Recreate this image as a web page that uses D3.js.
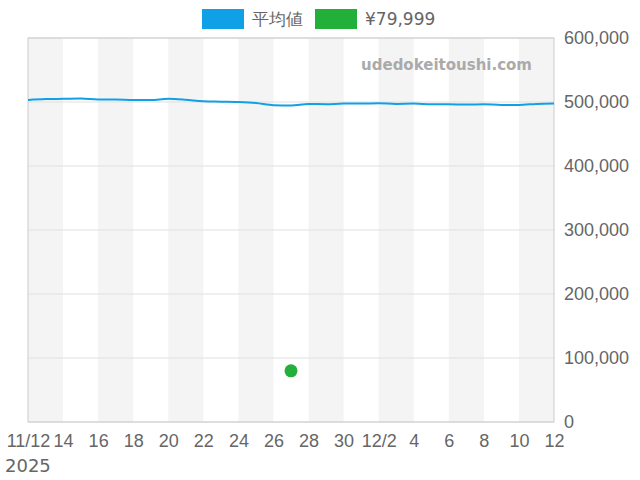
<!DOCTYPE html>
<html><head><meta charset="utf-8">
<script src="https://cdn.jsdelivr.net/npm/d3@7"></script>
<style>body{margin:0;background:#fff;font-family:"DejaVu Sans",sans-serif}</style>
</head><body><svg id="c" width="640" height="480"></svg>
<script>
const startDate = "2025-11-12";
const avgValues = [503000,504500,505000,505500,504000,504000,503000,503000,505000,503500,501000,500500,500000,498500,495000,494500,497000,496500,497500,497500,498000,497000,497500,496500,496500,496000,496500,495500,495500,497000,497500];
const pointDates = ["2025-11-27"];
const pointValues = [79999];
const yTicks = [0,100000,200000,300000,400000,500000,600000];
const xTickDates = ["2025-11-12","2025-11-14","2025-11-16","2025-11-18","2025-11-20","2025-11-22","2025-11-24","2025-11-26","2025-11-28","2025-11-30","2025-12-02","2025-12-04","2025-12-06","2025-12-08","2025-12-10","2025-12-12"];
const xTickLabels = ["11/12","14","16","18","20","22","24","26","28","30","12/2","4","6","8","10","12"];
const seriesNames = ["平均値","¥79,999"];
const colors = ["#0fa0e6","#22b03a"];

const svg = d3.select("#c");
const m = {l:28, r:554, t:38, b:422};
const p = d3.timeParse("%Y-%m-%d");
const d0 = p(startDate);
const dates = avgValues.map((v,i)=>d3.timeDay.offset(d0,i));
const x = d3.scaleTime().domain([d0, dates[dates.length-1]]).range([m.l,m.r]);
const y = d3.scaleLinear().domain([0,600000]).range([m.b,m.t]);

for (let i=0;i<xTickDates.length-1;i+=2){
  const a=x(p(xTickDates[i])), b=x(p(xTickDates[i+1]));
  svg.append("rect").attr("x",a).attr("y",m.t).attr("width",b-a).attr("height",m.b-m.t).attr("fill","#f4f4f4");
}
svg.selectAll(".g").data(yTicks).enter().append("line")
 .attr("x1",m.l).attr("x2",m.r).attr("y1",d=>y(d)).attr("y2",d=>y(d)).attr("stroke","#e0e0e0");
svg.append("rect").attr("x",m.l).attr("y",m.t).attr("width",m.r-m.l).attr("height",m.b-m.t).attr("fill","none").attr("stroke","#ccc");

const yAx = svg.append("g").attr("transform",`translate(${m.r},0)`)
 .call(d3.axisRight(y).tickValues(yTicks).tickFormat(d3.format(",")).tickSize(0).tickPadding(10));
yAx.select(".domain").remove();
yAx.selectAll("text").attr("font-size",18).attr("fill","#666");

const xAx = svg.append("g").attr("transform",`translate(0,${m.b})`)
 .call(d3.axisBottom(x).tickValues(xTickDates.map(p)).tickFormat((d,i)=>xTickLabels[i]).tickSize(0).tickPadding(12));
xAx.select(".domain").remove();
xAx.selectAll("text").attr("font-size",18).attr("fill","#666");
svg.append("text").attr("x",5).attr("y",472).attr("font-size",18).attr("fill","#666").text("2025");

svg.append("text").attr("x",532).attr("y",70).attr("text-anchor","end").attr("font-size",15).attr("font-weight","bold").attr("fill","#aaa").text("udedokeitoushi.com");

svg.append("path").datum(avgValues).attr("fill","none").attr("stroke",colors[0]).attr("stroke-width",2)
 .attr("d",d3.line().x((d,i)=>x(dates[i])).y(d=>y(d)).curve(d3.curveMonotoneX));
svg.selectAll(".pt").data(pointValues).enter().append("circle")
 .attr("cx",(d,i)=>x(p(pointDates[i]))).attr("cy",d=>y(d)).attr("r",6.5).attr("fill",colors[1]);

const lx=[202,315];
seriesNames.forEach((n,i)=>{
  svg.append("rect").attr("x",lx[i]).attr("y",9).attr("width",42).attr("height",20).attr("fill",colors[i]);
  svg.append("text").attr("x",lx[i]+50).attr("y",25).attr("font-size",17).attr("fill","#666").text(n);
});
</script></body></html>
